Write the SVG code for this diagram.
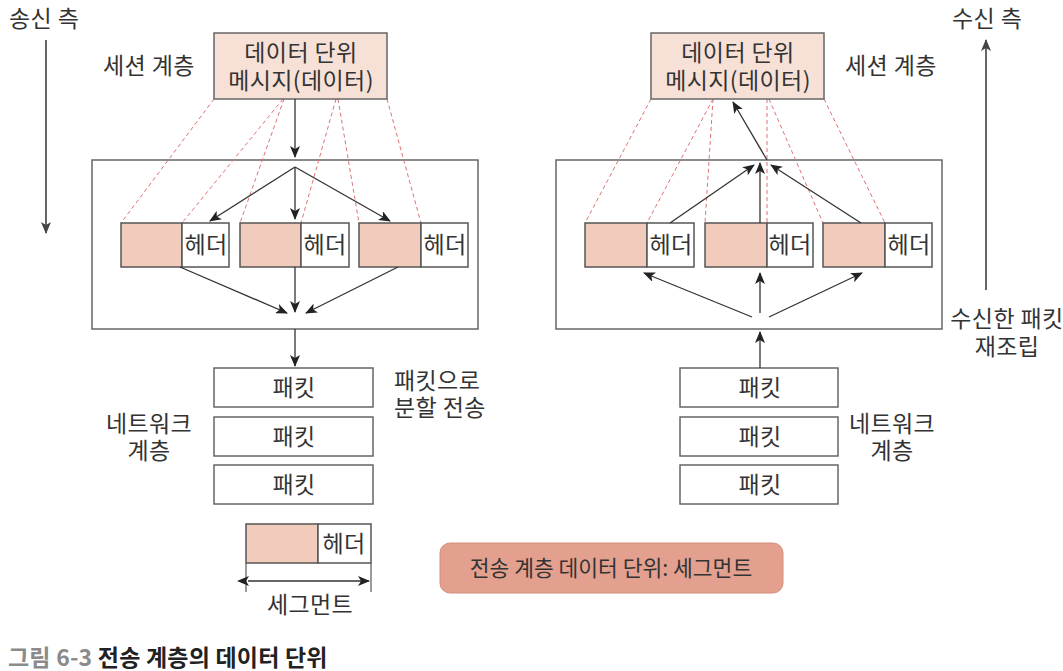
<svg xmlns="http://www.w3.org/2000/svg" width="1063" height="671" viewBox="0 0 1063 671">
<defs>
<marker id="ah" markerUnits="userSpaceOnUse" markerWidth="12" markerHeight="10" refX="11" refY="5" orient="auto">
<path d="M0,0 L12,5 L0,10 L3,5 Z" fill="#222"/>
</marker>
<marker id="ahg" markerUnits="userSpaceOnUse" markerWidth="12" markerHeight="10" refX="11" refY="5" orient="auto">
<path d="M0,0 L12,5 L0,10 L3,5 Z" fill="#444"/>
</marker>
<marker id="ahs" markerUnits="userSpaceOnUse" markerWidth="12" markerHeight="10" refX="1" refY="5" orient="auto-start-reverse">
<path d="M0,0 L12,5 L0,10 L3,5 Z" fill="#222"/>
</marker>
</defs>
<style>
text{font-family:"Noto Sans CJK KR","Noto Sans",sans-serif;fill:#333;font-size:23px;letter-spacing:0.4px}
.c{text-anchor:middle}
.box{fill:#fff;stroke:#666;stroke-width:1.5}
.ses{fill:#f7e1d7;stroke:#666;stroke-width:1.5}
.pk{fill:#f1cbbb;stroke:#555;stroke-width:1.5}
.hd{fill:#fff;stroke:#555;stroke-width:1.5}
.ln{stroke:#333;stroke-width:1.3;fill:none;marker-end:url(#ah)}
.dash{stroke:#e07272;stroke-width:1;stroke-dasharray:4 3;fill:none}
.big{stroke:#555;stroke-width:1.8;fill:none;marker-end:url(#ahg)}
</style>
<rect width="1063" height="671" fill="#fff"/>

<g id="labels">
<text x="9" y="27">송신 측</text>
<text x="952" y="27">수신 측</text>
<text x="103" y="74">세션 계층</text>
<text x="845" y="74">세션 계층</text>
<text x="106" y="195">전송 계층</text>
<text x="842" y="195">전송 계층</text>
<text x="394" y="389">패킷으로</text>
<text x="394" y="416">분할 전송</text>
<text class="c" x="149" y="432">네트워크</text>
<text class="c" x="149" y="459">계층</text>
<text class="c" x="892" y="432">네트워크</text>
<text class="c" x="892" y="459">계층</text>
<text class="c" x="1007" y="327">수신한 패킷</text>
<text class="c" x="1007" y="355">재조립</text>
</g>

<g id="side-arrows">
<line class="big" x1="46" y1="40" x2="46" y2="233"/>
<line class="big" x1="986" y1="290" x2="986" y2="40"/>
</g>

<g id="transport-left"><rect class="box" x="92" y="160" width="386" height="169"/></g>
<g id="transport-right"><rect class="box" x="556" y="160" width="386" height="169"/></g>

<g id="dashed-left">
<line class="dash" x1="214" y1="99" x2="121" y2="223"/>
<line class="dash" x1="283" y1="99" x2="182" y2="223"/>
<line class="dash" x1="284" y1="99" x2="240" y2="223"/>
<line class="dash" x1="336" y1="99" x2="301" y2="223"/>
<line class="dash" x1="338" y1="99" x2="359" y2="223"/>
<line class="dash" x1="387" y1="99" x2="421" y2="223"/>
</g>
<g id="dashed-right">
<line class="dash" x1="651" y1="99" x2="585" y2="223"/>
<line class="dash" x1="713" y1="99" x2="647" y2="223"/>
<line class="dash" x1="713" y1="99" x2="705" y2="223"/>
<line class="dash" x1="767" y1="99" x2="767" y2="223"/>
<line class="dash" x1="769" y1="99" x2="823" y2="223"/>
<line class="dash" x1="824" y1="99" x2="885" y2="223"/>
</g>

<g id="session-left">
<rect class="ses" x="214" y="33" width="173" height="66"/>
<text class="c" x="301" y="61">데이터 단위</text>
<text class="c" x="301" y="89">메시지(데이터)</text>
</g>
<g id="session-right">
<rect class="ses" x="651" y="33" width="173" height="66"/>
<text class="c" x="738" y="61">데이터 단위</text>
<text class="c" x="738" y="89">메시지(데이터)</text>
</g>

<g id="segments-left">
<rect class="pk" x="121" y="223" width="61" height="44"/><rect class="hd" x="182" y="223" width="47" height="44"/><text class="c" x="206" y="253">헤더</text>
<rect class="pk" x="240" y="223" width="61" height="44"/><rect class="hd" x="301" y="223" width="48" height="44"/><text class="c" x="325" y="253">헤더</text>
<rect class="pk" x="359" y="223" width="62" height="44"/><rect class="hd" x="421" y="223" width="47" height="44"/><text class="c" x="445" y="253">헤더</text>
</g>
<g id="segments-right">
<rect class="pk" x="585" y="223" width="62" height="44"/><rect class="hd" x="647" y="223" width="47" height="44"/><text class="c" x="671" y="253">헤더</text>
<rect class="pk" x="705" y="223" width="62" height="44"/><rect class="hd" x="767" y="223" width="46" height="44"/><text class="c" x="790" y="253">헤더</text>
<rect class="pk" x="823" y="223" width="62" height="44"/><rect class="hd" x="885" y="223" width="47" height="44"/><text class="c" x="909" y="253">헤더</text>
</g>

<g id="packets-left">
<rect class="box" x="214" y="368" width="159" height="39"/><text class="c" x="294" y="396">패킷</text>
<rect class="box" x="214" y="417" width="159" height="39"/><text class="c" x="294" y="445">패킷</text>
<rect class="box" x="214" y="465" width="159" height="39"/><text class="c" x="294" y="493">패킷</text>
</g>
<g id="packets-right">
<rect class="box" x="680" y="368" width="158" height="39"/><text class="c" x="760" y="396">패킷</text>
<rect class="box" x="680" y="417" width="158" height="39"/><text class="c" x="760" y="445">패킷</text>
<rect class="box" x="680" y="465" width="158" height="39"/><text class="c" x="760" y="493">패킷</text>
</g>

<g id="segment-legend">
<rect class="pk" x="246" y="524" width="72" height="39"/><rect class="hd" x="318" y="524" width="53" height="39"/><text class="c" x="344" y="552">헤더</text>
<line x1="246" y1="563" x2="246" y2="592" stroke="#666" stroke-width="1.3"/>
<line x1="371" y1="563" x2="371" y2="592" stroke="#666" stroke-width="1.3"/>
<line x1="248" y1="581" x2="369" y2="581" stroke="#333" stroke-width="1.3" marker-start="url(#ahs)" marker-end="url(#ah)"/>
<text class="c" x="310" y="613">세그먼트</text>
</g>

<g id="legend-box">
<rect x="440" y="543" width="343" height="50" rx="10" fill="#e3a08f" stroke="#d48e7d" stroke-width="1"/>
<text class="c" x="611" y="576" style="font-size:21.5px;letter-spacing:0">전송 계층 데이터 단위: 세그먼트</text>
</g>

<g id="connectors">
<line class="ln" x1="295" y1="99" x2="295" y2="157"/>
<line class="ln" x1="295" y1="167" x2="210" y2="221"/>
<line class="ln" x1="295" y1="167" x2="295" y2="219"/>
<line class="ln" x1="295" y1="167" x2="390" y2="221"/>
<line class="ln" x1="180" y1="267" x2="287" y2="313"/>
<line class="ln" x1="295" y1="267" x2="295" y2="312"/>
<line class="ln" x1="398" y1="267" x2="306" y2="313"/>
<line class="ln" x1="295" y1="329" x2="295" y2="366"/>
<line class="ln" x1="670" y1="223" x2="754" y2="165"/>
<line class="ln" x1="760" y1="223" x2="760" y2="163"/>
<line class="ln" x1="861" y1="223" x2="771" y2="165"/>
<line class="ln" x1="767" y1="160" x2="733" y2="102"/>
<line class="ln" x1="752" y1="317" x2="644" y2="273"/>
<line class="ln" x1="760" y1="313" x2="760" y2="273"/>
<line class="ln" x1="769" y1="317" x2="862" y2="273"/>
<line class="ln" x1="760" y1="368" x2="760" y2="332"/>
</g>

<g id="caption">
<text x="8" y="666" style="font-weight:bold;font-size:23px;letter-spacing:0.2px"><tspan style="fill:#8a8a8a">그림 6-3</tspan><tspan style="fill:#222"> 전송 계층의 데이터 단위</tspan></text>
</g>
</svg>
